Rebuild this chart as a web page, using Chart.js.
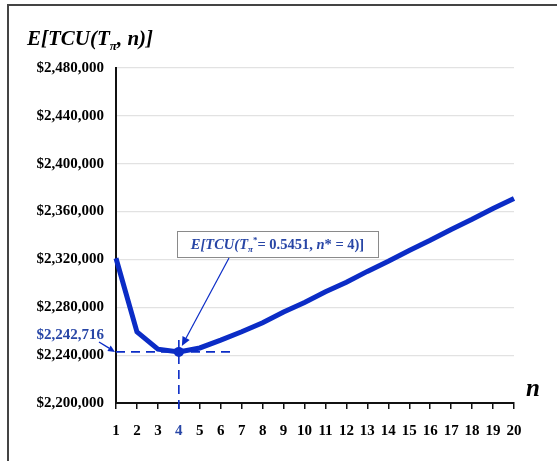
<!DOCTYPE html>
<html><head><meta charset="utf-8">
<script src="https://cdn.jsdelivr.net/npm/chart.js@4/dist/chart.umd.min.js"></script>
<style>html,body{margin:0;padding:0;background:#fff;}</style>
</head><body>
<canvas id="c" width="557" height="461"></canvas>
<script>
const nValues = [1,2,3,4,5,6,7,8,9,10,11,12,13,14,15,16,17,18,19,20];
const expectedTCU = [2321000,2259500,2245000,2242716,2246000,2252500,2259500,2267000,2276000,2284000,
                     2293000,2301000,2310000,2318500,2327500,2336000,2345000,2353500,2362500,2371000];
const yMin = 2200000, yMax = 2480000, yStep = 40000;
const optimalN = 4;
const optimalCost = 2242716;
const optimalT = '0.5451';

const lineBlue = '#0b2cc6';
const noteBlue = '#2846a6';
const serif = '"Liberation Serif","Times New Roman",serif';

function fmt(v){ return '$' + Math.round(v).toLocaleString('en-US'); }

function fontStr(size, italic){ return (italic ? 'italic ' : '') + 'bold ' + size + 'px ' + serif; }

function drawRich(ctx, x, y, parts, size, color, align){
  let w = 0;
  const items = parts.map(p => {
    const s = (p.sub || p.sup) ? Math.round(size*0.6) : size;
    ctx.font = fontStr(s, p.i);
    const mw = ctx.measureText(p.t).width;
    w += mw;
    return {p, s, mw};
  });
  let cx = align === 'center' ? x - w/2 : (align === 'right' ? x - w : x);
  ctx.fillStyle = color;
  ctx.textBaseline = 'alphabetic';
  ctx.textAlign = 'left';
  items.forEach(it => {
    ctx.font = fontStr(it.s, it.p.i);
    let dy = 0;
    if (it.p.sub) dy = size*0.22;
    if (it.p.sup) dy = -size*0.42;
    ctx.fillText(it.p.t, cx, y + dy);
    cx += it.mw;
  });
  return w;
}

function arrow(ctx, x1, y1, x2, y2, color, lw, head){
  ctx.save();
  ctx.strokeStyle = color; ctx.fillStyle = color; ctx.lineWidth = lw;
  const a = Math.atan2(y2-y1, x2-x1);
  const bx = x2 - head*Math.cos(a), by = y2 - head*Math.sin(a);
  ctx.beginPath(); ctx.moveTo(x1,y1); ctx.lineTo(bx,by); ctx.stroke();
  ctx.beginPath();
  ctx.moveTo(x2,y2);
  ctx.lineTo(bx + head*0.45*Math.sin(a), by - head*0.45*Math.cos(a));
  ctx.lineTo(bx - head*0.45*Math.sin(a), by + head*0.45*Math.cos(a));
  ctx.closePath(); ctx.fill();
  ctx.restore();
}

const annotations = {
  id: 'annotations',
  beforeDatasetsDraw(chart){
    const ctx = chart.ctx, xs = chart.scales.x, ys = chart.scales.y;
    const px = xs.getPixelForValue(optimalN), py = ys.getPixelForValue(optimalCost);
    ctx.save();
    ctx.strokeStyle = lineBlue; ctx.lineWidth = 1.6; ctx.setLineDash([9,6]);
    ctx.beginPath(); ctx.moveTo(xs.left, py); ctx.lineTo(xs.getPixelForValue(6.5), py); ctx.stroke();
    ctx.beginPath(); ctx.moveTo(px, py - 12); ctx.lineTo(px, xs.top + 6); ctx.stroke();
    ctx.restore();
  },
  afterDraw(chart){
    const ctx = chart.ctx, xs = chart.scales.x, ys = chart.scales.y;
    const px = xs.getPixelForValue(optimalN), py = ys.getPixelForValue(optimalCost);
    ctx.save();
    // frame
    ctx.strokeStyle = '#444'; ctx.lineWidth = 2;
    ctx.beginPath(); ctx.moveTo(8, 461); ctx.lineTo(8, 5); ctx.lineTo(557, 5); ctx.stroke();
    // title
    drawRich(ctx, 27, 45, [
      {t:'E[TCU(T', i:true}, {t:'π', i:true, sub:true}, {t:', ', i:true}, {t:'n', i:true}, {t:')]', i:true}
    ], 21, '#000', 'left');
    // axis label n
    drawRich(ctx, 526, 396, [{t:'n', i:true}], 25, '#000', 'left');
    // min value label
    ctx.font = fontStr(15, false); ctx.fillStyle = noteBlue; ctx.textAlign = 'right'; ctx.textBaseline = 'alphabetic';
    ctx.fillText(fmt(optimalCost), 104, 339);
    arrow(ctx, 99, 342, xs.left - 1, py, lineBlue, 1.4, 7);
    // box
    const bx = 177, by = 231, bw = 201, bh = 26;
    ctx.fillStyle = '#fff'; ctx.fillRect(bx, by, bw, bh);
    ctx.strokeStyle = '#8a8a8a'; ctx.lineWidth = 1; ctx.strokeRect(bx + 0.5, by + 0.5, bw, bh);
    drawRich(ctx, bx + bw/2, by + 18, [
      {t:'E[TCU(T', i:true}, {t:'π', i:true, sub:true}, {t:'*', sup:true}, {t:'= ' + optimalT + ', '},
      {t:'n', i:true}, {t:'* = ' + optimalN + ')]'}
    ], 14.5, noteBlue, 'center');
    arrow(ctx, 229, 258, px + 3, py - 6, lineBlue, 1.2, 9);
    ctx.restore();
  }
};

new Chart(document.getElementById('c'), {
  type: 'line',
  data: {
    datasets: [{
      data: nValues.map((n, i) => ({x: n, y: expectedTCU[i]})),
      borderColor: lineBlue,
      backgroundColor: lineBlue,
      borderWidth: 5,
      tension: 0,
      pointRadius: nValues.map(n => n === optimalN ? 5 : 0),
      pointBackgroundColor: lineBlue,
      pointBorderWidth: 0,
      clip: false
    }]
  },
  options: {
    responsive: false,
    animation: false,
    devicePixelRatio: 1,
    layout: { padding: { top: 68, left: 0, right: 43, bottom: 0 } },
    plugins: { legend: { display: false }, tooltip: { enabled: false } },
    scales: {
      x: {
        type: 'linear', min: 1, max: 20,
        afterFit(s){ s.height = 58; },
        border: { display: true, color: '#111', width: 2 },
        grid: { drawOnChartArea: false, drawTicks: true, tickLength: 6, color: '#111', lineWidth: 1.5 },
        ticks: {
          stepSize: 1, padding: 13, autoSkip: false, maxRotation: 0, minRotation: 0,
          font: { family: serif, size: 15, weight: 'bold' },
          color: c => c.tick && c.tick.value === optimalN ? noteBlue : '#000'
        }
      },
      y: {
        min: yMin, max: yMax,
        afterFit(s){ s.width = 116; },
        border: { display: true, color: '#111', width: 2 },
        grid: { drawTicks: false, color: '#e2e2e2', lineWidth: 1.2 },
        ticks: {
          stepSize: yStep, padding: 12,
          font: { family: serif, size: 15, weight: 'bold' },
          color: '#000',
          callback: v => fmt(v)
        }
      }
    }
  },
  plugins: [annotations]
});
</script>
</body></html>
